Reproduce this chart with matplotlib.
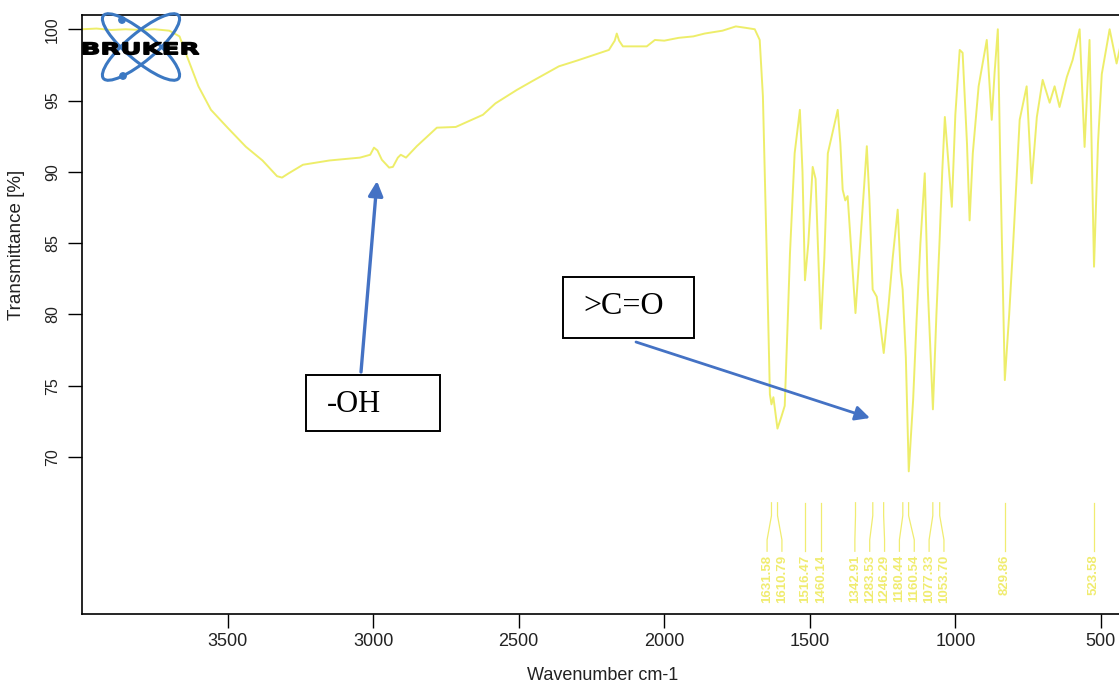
import numpy as np
import matplotlib
matplotlib.use("Agg")
import matplotlib.pyplot as plt
from matplotlib.patches import Ellipse, Circle, Rectangle, FancyArrowPatch, PathPatch
from matplotlib.textpath import TextPath
from matplotlib.font_manager import FontProperties
from matplotlib.transforms import Affine2D

# spectrum (wavenumber, transmittance %)
wavenumber = [4000, 3950, 3900, 3850, 3800, 3750, 3700, 3665, 3643, 3600, 3557, 3500,
              3437, 3380, 3330, 3313, 3290, 3241, 3150, 3045, 3010, 2997, 2985, 2970,
              2945, 2932, 2915, 2905, 2887, 2850, 2781, 2716, 2623, 2580, 2506, 2450,
              2362, 2300, 2190, 2170, 2163, 2155, 2142, 2060, 2032, 2000, 1950, 1900,
              1861, 1800, 1754, 1720, 1689, 1672, 1661, 1648, 1637, 1631.6, 1625, 1611,
              1598, 1586, 1575, 1568, 1552, 1534, 1525, 1516.5, 1505, 1490, 1480, 1462,
              1450, 1438, 1404, 1395, 1387, 1378, 1370, 1343, 1320, 1304, 1295, 1284,
              1270, 1262, 1246, 1230, 1215, 1198, 1188, 1181, 1170, 1160, 1145, 1133,
              1120, 1105, 1095, 1077, 1065, 1054, 1045, 1036, 1025, 1012, 1000, 985,
              975, 960, 951, 940, 920, 892, 875, 865, 854, 845, 830, 815, 803, 779,
              755, 738, 720, 700, 676, 659, 642, 617, 597, 573, 556, 539, 523.6, 510,
              497, 470, 446, 429, 400]
transmittance = [100.0, 100.05, 99.95, 100.0, 99.95, 100.0, 99.9, 99.5, 98.3, 96.0, 94.35, 93.1,
                 91.76, 90.8, 89.7, 89.6, 89.9, 90.5, 90.8, 91.0, 91.2, 91.7, 91.5, 90.85,
                 90.3, 90.35, 91.0, 91.2, 91.0, 91.8, 93.1, 93.15, 94.0, 94.8, 95.75, 96.4,
                 97.4, 97.8, 98.55, 99.2, 99.7, 99.2, 98.8, 98.8, 99.25, 99.2, 99.4, 99.5,
                 99.7, 99.9, 100.2, 100.1, 100.0, 99.25, 95.3, 84.3, 74.4, 73.7, 74.2, 72.0,
                 72.8, 73.6, 80.0, 84.3, 91.3, 94.35, 90.0, 82.4, 85.0, 90.35, 89.5, 79.0,
                 84.0, 91.3, 94.35, 92.0, 88.75, 88.0, 88.3, 80.1, 87.0, 91.8, 88.0, 81.75,
                 81.25, 80.0, 77.3, 80.5, 84.0, 87.35, 83.0, 81.75, 77.0, 69.0, 74.0, 79.65,
                 85.0, 89.9, 82.0, 73.35, 80.0, 85.25, 90.0, 93.85, 91.0, 87.55, 94.0, 98.55,
                 98.35, 92.0, 86.6, 91.3, 96.0, 99.25, 93.65, 97.0, 100.0, 90.0, 75.4, 80.0, 84.3, 93.65,
                 96.0, 89.2, 93.85, 96.45, 94.85, 96.0, 94.55, 96.65, 97.85, 100.0, 91.75, 99.25, 83.35, 92.0,
                 96.85, 100.0, 97.6, 99.2, 98.8]

peaks = [1631.58, 1610.79, 1516.47, 1460.14, 1342.91, 1283.53, 1246.29,
         1180.44, 1160.54, 1077.33, 1053.70, 829.86, 523.58]

x_ticks = [3500, 3000, 2500, 2000, 1500, 1000, 500]
y_ticks = [70, 75, 80, 85, 90, 95, 100]

line_col = "#ecec5a"
label_col = "#f0ec70"
arrow_col = "#4472c4"


def spread_labels(vals, sep):
    # keep peak labels at least `sep` apart, centred on their peaks
    clusters = [[v] for v in sorted(vals, reverse=True)]

    def place(c):
        m = np.mean(c)
        n = len(c)
        return [m + sep * ((n - 1) / 2 - i) for i in range(n)]

    merged = True
    while merged:
        merged = False
        for k in range(len(clusters) - 1):
            a, b = place(clusters[k]), place(clusters[k + 1])
            if a[-1] - b[0] < sep - 1e-9:
                clusters[k] = clusters[k] + clusters[k + 1]
                del clusters[k + 1]
                merged = True
                break
    out = []
    for c in clusters:
        out += place(c)
    return out


fig = plt.figure(figsize=(11.19, 6.84), dpi=100)
ax = fig.add_axes([82 / 1119, 70 / 684, 1048 / 1119, 599 / 684])

ax.plot(wavenumber, transmittance, color=line_col, lw=1.4, alpha=0.9)

# peak markers and labels
label_pos = spread_labels(peaks, 51)
for p, lp in zip(sorted(peaks, reverse=True), label_pos):
    ax.plot([p, p, lp, lp], [66.8, 65.9, 64.2, 63.4], color=label_col, lw=0.9)
    ax.text(lp, 63.15, f"{p:.2f}", rotation=90, ha="center", va="top",
            fontsize=9.5, color=label_col, family="Liberation Sans", fontweight="bold")

ax.set_xlim(4000, 400)
ax.set_ylim(59, 101)
ax.set_xticks(x_ticks)
ax.set_yticks(y_ticks)
ax.set_xticklabels([str(t) for t in x_ticks], fontsize=13, family="Liberation Sans", color="#222222")
ax.set_yticklabels([str(t) for t in y_ticks], fontsize=11.5, family="Liberation Sans",
                   color="#222222", rotation=90, va="center")
ax.tick_params(axis="x", length=10, width=1, pad=3.5)
ax.tick_params(axis="y", length=10, width=1, pad=6)
ax.spines["right"].set_visible(False)
for s in ["top", "bottom", "left"]:
    ax.spines[s].set_linewidth(1.2)

ax.set_xlabel("Wavenumber cm-1", fontsize=13, family="Liberation Sans", color="#222222")
ax.xaxis.set_label_coords(0.497, -0.088)
ax.set_ylabel("Transmittance [%]", fontsize=13.5, family="Liberation Sans", color="#222222")
ax.yaxis.set_label_coords(-0.0545, 0.617)

# overlay in pixel coordinates for logo and annotations
ov = fig.add_axes([0, 0, 1, 1], zorder=5)
ov.set_xlim(0, 1119)
ov.set_ylim(684, 0)
ov.axis("off")
ov.patch.set_visible(False)

logo_col = "#3b78c2"
for ang in (40, -40):
    ov.add_patch(Ellipse((141, 47), 98, 28, angle=ang, fill=False, ec=logo_col, lw=2.2))
ov.add_patch(Circle((122, 20), 3.2, color=logo_col))
ov.add_patch(Circle((123, 76), 3.2, color=logo_col))
tp = TextPath((0, 0), "BRUKER", size=10, prop=FontProperties(family="DejaVu Sans", weight="bold"))
bb = tp.get_extents()
tr = Affine2D().translate(-bb.x0, -bb.y0).scale(116 / bb.width, -12 / bb.height).translate(83, 54.5)
ov.add_patch(PathPatch(tr.transform_path(tp), fc="black", ec="black", lw=1.0))

# annotation boxes and arrows
ov.add_patch(Rectangle((306, 375), 134, 56, fill=False, ec="black", lw=1.4))
ov.text(327, 404, "-OH", fontsize=22, family="Liberation Serif", va="center", ha="left")
ov.add_patch(Rectangle((563, 277), 131, 61, fill=False, ec="black", lw=1.4))
ov.text(583, 306, ">C=O", fontsize=23, family="Liberation Serif", va="center", ha="left")

ov.add_patch(FancyArrowPatch((361, 372), (377, 181), arrowstyle="-|>", mutation_scale=22,
                             color=arrow_col, lw=2.4, shrinkA=0, shrinkB=0))
ov.add_patch(FancyArrowPatch((636, 342), (870, 418), arrowstyle="-|>", mutation_scale=22,
                             color=arrow_col, lw=2.0, shrinkA=0, shrinkB=0))

fig.savefig("out.png", dpi=100)
